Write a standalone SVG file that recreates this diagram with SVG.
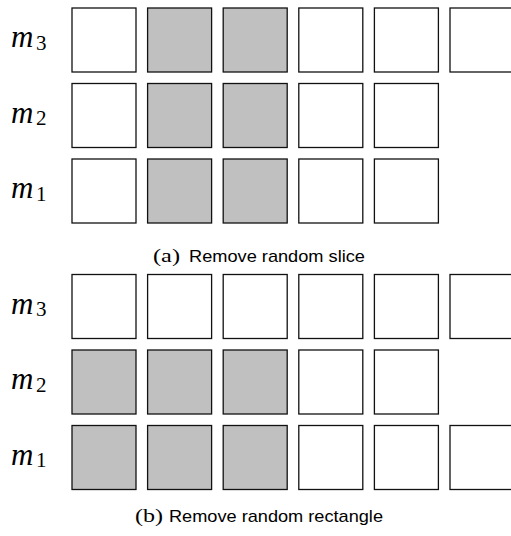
<svg xmlns="http://www.w3.org/2000/svg" width="511" height="536" viewBox="0 0 511 536">
  <style>
    .cell { fill: #ffffff; stroke: #111111; stroke-width: 1.3; }
    .drop { fill: #c0c0c0; }
    .var { font-family: "Liberation Serif", "DejaVu Serif", serif; font-style: italic; font-size: 31px; fill: #000; }
    .sub { font-family: "Liberation Serif", "DejaVu Serif", serif; font-style: normal; font-size: 21px; fill: #000; }
    .tag { font-family: "Liberation Serif", "DejaVu Serif", serif; font-size: 18px; fill: #000; }
    .cap { font-family: "Liberation Sans", Arial, sans-serif; font-size: 17px; fill: #000; }
  </style>

  <!-- Panel (a): a whole column slice removed across all modalities -->
  <g id="panel-a">
    <g id="a-labels">
      <text class="var" x="11" y="47">m<tspan class="sub" x="36" y="49.5">3</tspan></text>
      <text class="var" x="11" y="122.5">m<tspan class="sub" x="36" y="125">2</tspan></text>
      <text class="var" x="11" y="198">m<tspan class="sub" x="36" y="200.5">1</tspan></text>
    </g>
    <g id="a-m3">
      <rect class="cell" x="72" y="8" width="64" height="64"/>
      <rect class="cell drop" x="147.6" y="8" width="64" height="64"/>
      <rect class="cell drop" x="223.2" y="8" width="64" height="64"/>
      <rect class="cell" x="298.8" y="8" width="64" height="64"/>
      <rect class="cell" x="374.4" y="8" width="64" height="64"/>
      <rect class="cell" x="450" y="8" width="64" height="64"/>
    </g>
    <g id="a-m2">
      <rect class="cell" x="72" y="83.5" width="64" height="64"/>
      <rect class="cell drop" x="147.6" y="83.5" width="64" height="64"/>
      <rect class="cell drop" x="223.2" y="83.5" width="64" height="64"/>
      <rect class="cell" x="298.8" y="83.5" width="64" height="64"/>
      <rect class="cell" x="374.4" y="83.5" width="64" height="64"/>
    </g>
    <g id="a-m1">
      <rect class="cell" x="72" y="159" width="64" height="64"/>
      <rect class="cell drop" x="147.6" y="159" width="64" height="64"/>
      <rect class="cell drop" x="223.2" y="159" width="64" height="64"/>
      <rect class="cell" x="298.8" y="159" width="64" height="64"/>
      <rect class="cell" x="374.4" y="159" width="64" height="64"/>
    </g>
    <g id="a-caption">
      <text class="tag" x="153" y="262" textLength="27" lengthAdjust="spacingAndGlyphs">(a)</text>
      <text class="cap" x="189" y="262" textLength="176" lengthAdjust="spacingAndGlyphs">Remove random slice</text>
    </g>
  </g>

  <!-- Panel (b): a rectangular block removed across modalities and steps -->
  <g id="panel-b">
    <g id="b-labels">
      <text class="var" x="11" y="313.5">m<tspan class="sub" x="36" y="316">3</tspan></text>
      <text class="var" x="11" y="389">m<tspan class="sub" x="36" y="391.5">2</tspan></text>
      <text class="var" x="11" y="464.5">m<tspan class="sub" x="36" y="467">1</tspan></text>
    </g>
    <g id="b-m3">
      <rect class="cell" x="72" y="274.5" width="64" height="64"/>
      <rect class="cell" x="147.6" y="274.5" width="64" height="64"/>
      <rect class="cell" x="223.2" y="274.5" width="64" height="64"/>
      <rect class="cell" x="298.8" y="274.5" width="64" height="64"/>
      <rect class="cell" x="374.4" y="274.5" width="64" height="64"/>
      <rect class="cell" x="450" y="274.5" width="64" height="64"/>
    </g>
    <g id="b-m2">
      <rect class="cell drop" x="72" y="350" width="64" height="64"/>
      <rect class="cell drop" x="147.6" y="350" width="64" height="64"/>
      <rect class="cell drop" x="223.2" y="350" width="64" height="64"/>
      <rect class="cell" x="298.8" y="350" width="64" height="64"/>
      <rect class="cell" x="374.4" y="350" width="64" height="64"/>
    </g>
    <g id="b-m1">
      <rect class="cell drop" x="72" y="425.5" width="64" height="64"/>
      <rect class="cell drop" x="147.6" y="425.5" width="64" height="64"/>
      <rect class="cell drop" x="223.2" y="425.5" width="64" height="64"/>
      <rect class="cell" x="298.8" y="425.5" width="64" height="64"/>
      <rect class="cell" x="374.4" y="425.5" width="64" height="64"/>
      <rect class="cell" x="450" y="425.5" width="64" height="64"/>
    </g>
    <g id="b-caption">
      <text class="tag" x="135" y="521.5" textLength="28" lengthAdjust="spacingAndGlyphs">(b)</text>
      <text class="cap" x="169" y="521.5" textLength="214" lengthAdjust="spacingAndGlyphs">Remove random rectangle</text>
    </g>
  </g>
</svg>
